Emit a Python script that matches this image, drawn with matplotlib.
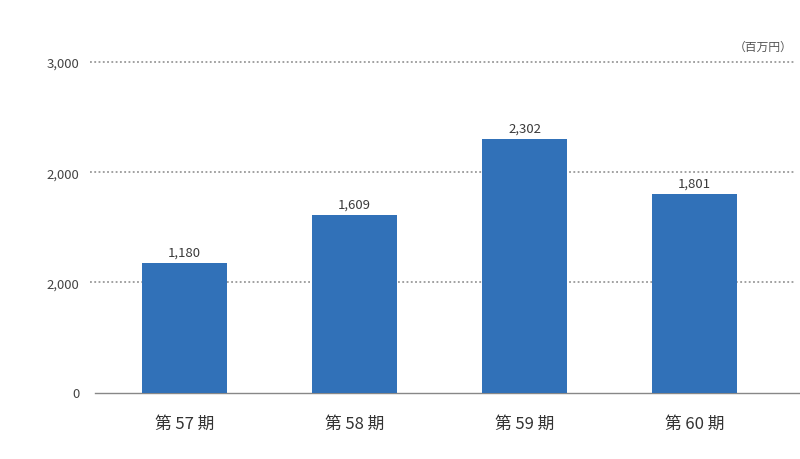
import matplotlib
matplotlib.use('Agg')
import matplotlib.pyplot as plt

plt.rcParams['font.family'] = ['Noto Sans CJK JP', 'DejaVu Sans']

periods = ['第 57 期', '第 58 期', '第 59 期', '第 60 期']
values = [1180, 1609, 2302, 1801]
value_labels = ['1,180', '1,609', '2,302', '1,801']
ytick_vals = [0, 1000, 2000, 3000]
ytick_labels = ['0', '2,000', '2,000', '3,000']

bar_color = '#3171b8'

fig = plt.figure(figsize=(8, 4.6), dpi=100)
ax = fig.add_axes([95 / 800, 66.5 / 460, 705 / 800, 330.5 / 460])

x = list(range(len(periods)))
ax.bar(x, values, width=0.5, color=bar_color, zorder=3)

for xi, v, lab in zip(x, values, value_labels):
    ax.annotate(lab, (xi, v), xytext=(0, 3), textcoords='offset points',
                ha='center', va='bottom', fontsize=9.5, color='#3a3a3a')

ax.set_xlim(-0.526, 3.62)
ax.set_ylim(0, 3000)

# dotted gridlines
for y in ytick_vals[1:]:
    ax.axhline(y, xmin=-0.007, xmax=0.993, color='#888888', linestyle=(0, (1.2, 1.6)),
               linewidth=1.1, zorder=1, clip_on=False)

for s in ['top', 'right', 'left']:
    ax.spines[s].set_visible(False)
ax.spines['bottom'].set_color('#888888')
ax.spines['bottom'].set_linewidth(1)

ax.set_yticks(ytick_vals)
ax.set_yticklabels(ytick_labels, fontsize=9.5, color='#444444')
ax.tick_params(axis='y', length=0, pad=11)
ax.set_xticks(x)
ax.set_xticklabels(periods, fontsize=12, color='#333333')
ax.tick_params(axis='x', length=0, pad=16)

fig.text(0.99, 0.897, '（百万円）', ha='right', va='center', fontsize=8.5, color='#555555')

fig.savefig('out.png', dpi=100)
